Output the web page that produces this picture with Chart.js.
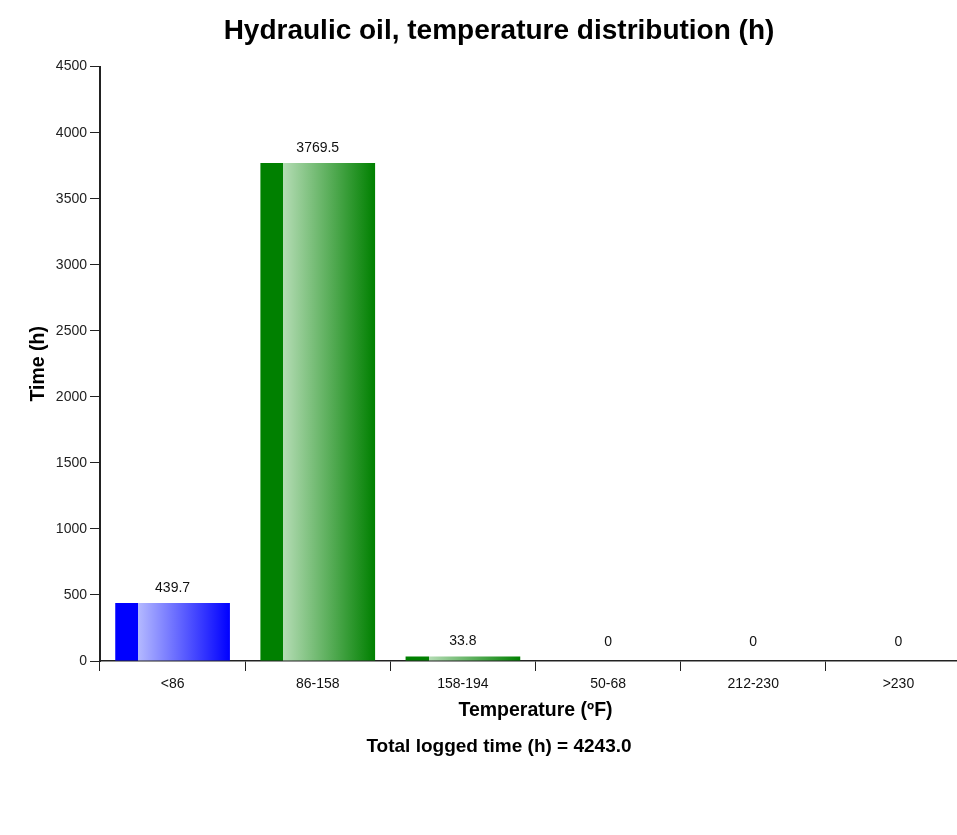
<!DOCTYPE html>
<html>
<head>
<meta charset="utf-8">
<script src="https://cdn.jsdelivr.net/npm/chart.js@4"></script>
<style>
  html, body { margin: 0; padding: 0; background: #fff; overflow: hidden; }
  #wrap { width: 993px; height: 835px; position: relative; }
</style>
</head>
<body>
<div id="wrap"><canvas id="c"></canvas></div>
<script>
const categories = ['<86', '86-158', '158-194', '50-68', '212-230', '>230'];
const hours = [439.7, 3769.5, 33.8, 0, 0, 0];
const barColors = ['#0000ff', '#008000', '#008000', '#008000', '#008000', '#008000'];
const barLightColors = ['#b4b9ff', '#b4dcb4', '#b4dcb4', '#b4dcb4', '#b4dcb4', '#b4dcb4'];
const yTicks = [0, 500, 1000, 1500, 2000, 2500, 3000, 3500, 4000, 4500];
const totalLogged = '4243.0';

const FONT = "'Liberation Sans', Arial, sans-serif";
const BAR_PCT = 0.79;

function barFill(ctx) {
  const chart = ctx.chart;
  const i = ctx.dataIndex;
  const xs = chart.scales && chart.scales.x;
  if (!chart.chartArea || !xs) return barColors[i];
  const cx = xs.getPixelForValue(i);
  const w = (xs.width / categories.length) * BAR_PCT;
  const l = cx - w / 2, r = cx + w / 2;
  const g = chart.ctx.createLinearGradient(l, 0, r, 0);
  g.addColorStop(0, barColors[i]);
  g.addColorStop(0.2, barColors[i]);
  g.addColorStop(0.2001, barLightColors[i]);
  g.addColorStop(1, barColors[i]);
  return g;
}

const valueLabels = {
  id: 'valueLabels',
  afterDatasetsDraw(chart) {
    const c = chart.ctx;
    const meta = chart.getDatasetMeta(0);
    const base = chart.scales.y.getPixelForValue(0);
    c.save();
    c.font = '14px ' + FONT;
    c.fillStyle = '#111';
    c.textAlign = 'center';
    c.textBaseline = 'middle';
    meta.data.forEach((el, i) => {
      const v = hours[i];
      const txt = v === 0 ? '0' : v.toFixed(1);
      c.fillText(txt, el.x, Math.min(el.y - 15, base - 19));
    });
    c.restore();
  }
};

new Chart(document.getElementById('c'), {
  type: 'bar',
  data: {
    labels: categories,
    datasets: [{
      data: hours,
      backgroundColor: barFill,
      borderWidth: 0,
      barPercentage: BAR_PCT,
      categoryPercentage: 1
    }]
  },
  options: {
    responsive: true,
    maintainAspectRatio: false,
    animation: false,
    layout: { padding: { left: 27, right: 22, top: 10, bottom: 77 } },
    plugins: {
      legend: { display: false },
      tooltip: { enabled: false },
      title: {
        display: true,
        text: 'Hydraulic oil, temperature distribution (h)',
        color: '#000',
        font: { family: FONT, size: 28, weight: 'bold' },
        padding: { top: 4, bottom: 19 }
      },
      subtitle: {
        display: true,
        position: 'bottom',
        text: 'Total logged time (h) = ' + totalLogged,
        color: '#000',
        font: { family: FONT, size: 19, weight: 'bold' },
        padding: { top: 13, bottom: 0 }
      }
    },
    scales: {
      x: {
        grid: { display: true, drawOnChartArea: false, drawTicks: true, tickLength: 10, color: '#222', lineWidth: 1, offset: true },
        border: { display: true, color: '#222', width: 1.5 },
        ticks: { color: '#111', font: { family: FONT, size: 14 }, padding: 5 },
        title: {
          display: true,
          text: 'Temperature (ºF)',
          color: '#000',
          font: { family: FONT, size: 19.5, weight: 'bold' },
          padding: { top: 1, bottom: 0 }
        }
      },
      y: {
        min: 0,
        max: 4500,
        afterFit(s) { s.width = 73; },
        afterBuildTicks(s) { s.ticks = yTicks.map(v => ({ value: v })); },
        grid: { display: true, drawOnChartArea: false, drawTicks: true, tickLength: 10, color: '#222', lineWidth: 1 },
        border: { display: true, color: '#222', width: 2 },
        ticks: {
          color: '#222',
          font: { family: FONT, size: 14 },
          padding: 3,
          callback: (v) => String(v)
        },
        title: {
          display: true,
          text: 'Time (h)',
          color: '#000',
          font: { family: FONT, size: 19.5, weight: 'bold' },
          padding: { top: 0, bottom: 4 }
        }
      }
    }
  },
  plugins: [valueLabels]
});
</script>
</body>
</html>
